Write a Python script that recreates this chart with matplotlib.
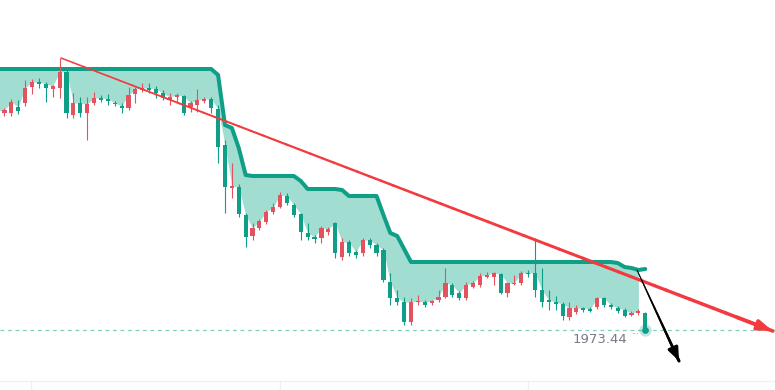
import numpy as np
import matplotlib
matplotlib.use("Agg")
import matplotlib.pyplot as plt
from matplotlib.collections import LineCollection
from matplotlib.lines import Line2D

# OHLC of the visible candles (price units), first one is cut by the left edge
opens = [
    2028.25,
    2027.75, 2027.75, 2029.25, 2030.25, 2034.25, 2035.5, 2035.0, 2033.75, 2034.0, 2038.0,
    2027.25, 2030.25, 2027.75, 2030.25, 2031.5, 2031.25, 2030.25, 2029.5, 2029.0, 2032.5,
    2033.5, 2034.0, 2033.75, 2032.75, 2031.0, 2031.75, 2032.0, 2029.25, 2029.75, 2030.75,
    2031.25, 2028.75, 2019.75, 2009.0, 2009.25, 2002.25, 1997.0, 1999.0, 2000.5, 2003.0,
    2004.25, 2007.0, 2004.75, 2002.5, 1997.75, 1996.75, 1996.5, 1998.0, 2000.25, 1991.75,
    1995.5, 1993.0, 1992.75, 1996.0, 1994.75, 1993.5, 1985.5, 1981.5, 1980.5, 1975.5,
    1980.5, 1980.5, 1980.25, 1981.0, 1981.75, 1984.75, 1982.75, 1981.5, 1984.25, 1984.75,
    1986.75, 1986.75, 1987.5, 1982.75, 1985.0, 1985.25, 1987.75, 1987.75, 1983.5, 1981.0,
    1980.5, 1980.0, 1976.75, 1978.0, 1979.0, 1978.75, 1979.25, 1981.5, 1979.75, 1979.0,
    1978.5, 1977.25, 1977.75, 1977.75,
]
highs = [
    2029.0,
    2029.0, 2031.25, 2031.0, 2036.0, 2036.25, 2036.5, 2035.5, 2034.75, 2041.5, 2038.5,
    2032.75, 2031.75, 2031.75, 2033.0, 2032.25, 2032.5, 2030.75, 2030.25, 2034.25, 2034.25,
    2035.25, 2035.25, 2034.5, 2033.5, 2032.75, 2032.75, 2032.25, 2030.75, 2033.75, 2031.75,
    2031.75, 2029.75, 2021.0, 2015.25, 2010.0, 2002.75, 2000.25, 2001.25, 2003.5, 2005.25,
    2008.0, 2007.75, 2005.25, 2002.75, 2000.25, 1997.25, 1999.5, 1999.25, 2000.5, 1996.5,
    1996.0, 1993.5, 1996.5, 1996.5, 1995.25, 1994.0, 1987.75, 1983.5, 1981.75, 1981.5,
    1982.25, 1981.0, 1981.0, 1983.5, 1989.0, 1985.25, 1983.25, 1985.5, 1985.75, 1987.75,
    1988.0, 1988.0, 1987.75, 1985.5, 1987.25, 1988.25, 1988.5, 1996.0, 1989.0, 1983.5,
    1982.0, 1980.5, 1980.5, 1979.75, 1979.25, 1979.25, 1981.75, 1981.75, 1980.25, 1979.5,
    1979.0, 1978.25, 1978.75, 1978.0,
]
lows = [
    2026.75,
    2027.0, 2027.0, 2027.5, 2029.5, 2032.5, 2034.0, 2030.5, 2031.75, 2031.5, 2026.5,
    2026.5, 2026.75, 2021.0, 2029.75, 2030.5, 2029.75, 2029.5, 2027.75, 2028.5, 2030.25,
    2033.0, 2032.75, 2031.5, 2031.0, 2029.75, 2030.25, 2027.25, 2028.0, 2028.0, 2030.25,
    2027.75, 2015.25, 2002.75, 2006.5, 2001.75, 1994.25, 1996.0, 1998.5, 2000.0, 2002.5,
    2004.0, 2004.75, 2001.75, 1996.0, 1996.0, 1995.25, 1995.25, 1997.25, 1991.5, 1991.0,
    1992.0, 1991.5, 1992.0, 1994.0, 1992.0, 1985.5, 1979.75, 1979.75, 1974.75, 1974.75,
    1979.75, 1979.25, 1979.75, 1980.5, 1981.5, 1981.75, 1981.0, 1981.0, 1984.0, 1984.25,
    1986.5, 1984.75, 1982.5, 1981.75, 1984.75, 1984.75, 1986.75, 1981.75, 1979.25, 1978.5,
    1978.5, 1976.0, 1976.0, 1977.5, 1978.0, 1978.0, 1978.75, 1979.25, 1978.75, 1977.75,
    1976.75, 1977.0, 1977.25, 1973.44,
]
closes = [
    2027.75,
    2028.5, 2030.5, 2028.25, 2034.0, 2035.5, 2035.0, 2034.0, 2034.5, 2038.0, 2027.75,
    2030.25, 2027.75, 2030.0, 2031.5, 2031.0, 2030.75, 2030.0, 2029.0, 2032.25, 2033.75,
    2034.0, 2033.5, 2032.75, 2031.5, 2031.75, 2032.25, 2027.75, 2030.25, 2031.0, 2031.25,
    2029.0, 2019.25, 2009.25, 2009.5, 2002.5, 1996.75, 1999.0, 2000.75, 2003.0, 2004.25,
    2007.25, 2005.25, 2002.25, 1998.0, 1996.75, 1996.25, 1999.0, 1998.75, 1992.75, 1995.5,
    1992.75, 1992.25, 1996.0, 1994.75, 1992.75, 1986.0, 1981.5, 1980.5, 1975.5, 1980.5,
    1980.75, 1979.75, 1980.75, 1981.75, 1985.25, 1982.25, 1981.5, 1984.75, 1985.25, 1987.0,
    1987.25, 1987.75, 1982.75, 1985.25, 1985.25, 1987.75, 1987.5, 1983.5, 1980.5, 1980.5,
    1980.0, 1977.0, 1979.0, 1979.0, 1978.5, 1978.25, 1981.5, 1979.75, 1979.25, 1978.25,
    1977.0, 1977.75, 1978.25, 1973.44,
]

# trailing stop level per candle
stop = ([2038.75] * 32 + [2037.25, 2024.75, 2024.0, 2019.0, 2012.25] + [2012.0] * 7
        + [2010.75] + [2008.75] * 5 + [2008.5] + [2007.0] * 5
        + [2002.25, 1997.75, 1997.0, 1993.75] + [1990.5] * 30
        + [1990.25, 1989.25, 1989.0, 1988.5, 1988.75])

# drawn lines: (candle index, price) at both ends
trend_x = [9.2, 112.5]
trend_y = [2041.5, 1973.25]
proj_x = [92.8, 98.9]
proj_y = [1988.5, 1965.75]

UP = "#e2525f"
DOWN = "#0f9f86"
FILL = "#a2ddd2"
TREND = "#f23a3f"

o = np.array(opens)
h = np.array(highs)
l = np.array(lows)
c = np.array(closes)
idx = np.arange(len(c))
last = c[-1]

fig = plt.figure(figsize=(7.75, 3.9), dpi=100)
ax = fig.add_axes([0, 0, 1, 1])
ax.set_xlim(0.347, 112.83)
ax.set_ylim(1958.5, 2056)
ax.axis("off")

# band between stop line and candle tops
body_top = np.maximum(o, c)
ax.fill_between(idx[:-1], stop[:-1], body_top[:-1], color=FILL, lw=0, zorder=1)
ax.plot(idx, stop, color=DOWN, lw=2.9, solid_joinstyle="round",
        solid_capstyle="round", zorder=2)

# candles (red = up, green = down)
cols = [UP if cc >= oo else DOWN for oo, cc in zip(o, c)]
ax.vlines(idx, l, h, colors=cols, lw=0.8, zorder=3)
bodies = np.maximum(np.abs(c - o), 0.35)
ax.bar(idx, bodies, bottom=np.minimum(o, c), width=0.6, color=cols, lw=0, zorder=4)

# last price line + marker
ax.axhline(last, color="#7fd0c1", lw=0.9, ls=(0, (3, 3)), zorder=1)
ax.scatter([idx[-1]], [last], s=80, color=DOWN, alpha=0.25, lw=0, zorder=5)
ax.scatter([idx[-1]], [last], s=24, color=DOWN, lw=0, zorder=6)
ax.annotate(f"{last:.2f}", xy=(idx[-1], last), xytext=(-18, -9),
            textcoords="offset pixels", ha="right", va="center",
            fontsize=9.5, color="#787b86")
ax.annotate("···", xy=(idx[-1], last), xytext=(-14, -4),
            textcoords="offset pixels", ha="left", va="center",
            fontsize=6, color="#787b86")


def tapered(x, y, w0, w1, color, hl, hw):
    n = 60
    xs = np.linspace(x[0], x[1], n + 1)
    ys = np.linspace(y[0], y[1], n + 1)
    segs = [[(xs[i], ys[i]), (xs[i + 1], ys[i + 1])] for i in range(n)]
    lc = LineCollection(segs, linewidths=np.linspace(w0, w1, n), colors=color,
                        capstyle="round", zorder=7)
    ax.add_collection(lc)
    ax.annotate("", xy=(x[1], y[1]), xytext=(xs[-4], ys[-4]),
                arrowprops=dict(arrowstyle=f"-|>,head_length={hl},head_width={hw}",
                                color=color, lw=w1, shrinkA=0, shrinkB=0,
                                mutation_scale=10),
                zorder=8)


tapered(trend_x, trend_y, 1.1, 2.6, TREND, 0.85, 0.3)
tapered(proj_x, proj_y, 0.7, 2.2, "black", 0.75, 0.3)

# bottom pane separator
ysep = 1 - 380.5 / 390
fig.add_artist(Line2D([0, 1], [ysep, ysep], transform=fig.transFigure,
                      color="#eef0f5", lw=1))
for xs in [31.5, 280, 528]:
    fig.add_artist(Line2D([xs / 775, xs / 775], [0, ysep], transform=fig.transFigure,
                          color="#eef0f5", lw=1))

fig.savefig("out.png", dpi=100)
